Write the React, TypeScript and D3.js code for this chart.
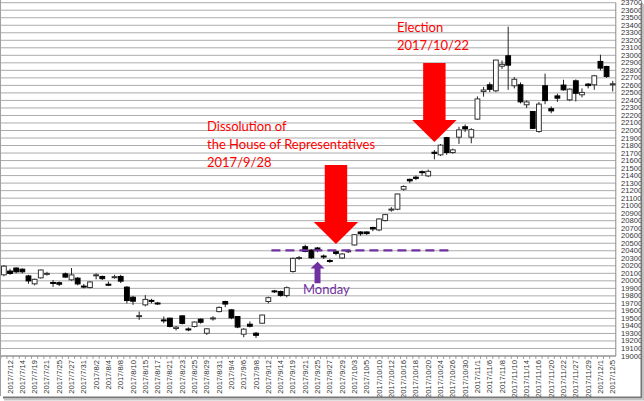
import React from "react";
import * as d3 from "d3";

const dates = [
  "2017/7/11","2017/7/12","2017/7/13","2017/7/14","2017/7/18","2017/7/19","2017/7/20","2017/7/21","2017/7/24","2017/7/25","2017/7/26","2017/7/27","2017/7/28","2017/7/31",
  "2017/8/1","2017/8/2","2017/8/3","2017/8/4","2017/8/7","2017/8/8","2017/8/9","2017/8/10","2017/8/14","2017/8/15","2017/8/16","2017/8/17","2017/8/18","2017/8/21","2017/8/22","2017/8/23","2017/8/24","2017/8/25","2017/8/28","2017/8/29","2017/8/30","2017/8/31",
  "2017/9/1","2017/9/4","2017/9/5","2017/9/6","2017/9/7","2017/9/8","2017/9/11","2017/9/12","2017/9/13","2017/9/14","2017/9/15","2017/9/19","2017/9/20","2017/9/21","2017/9/22","2017/9/25","2017/9/26","2017/9/27","2017/9/28","2017/9/29",
  "2017/10/2","2017/10/3","2017/10/4","2017/10/5","2017/10/6","2017/10/10","2017/10/11","2017/10/12","2017/10/13","2017/10/16","2017/10/17","2017/10/18","2017/10/19","2017/10/20","2017/10/23","2017/10/24","2017/10/25","2017/10/26","2017/10/27","2017/10/30","2017/10/31",
  "2017/11/1","2017/11/2","2017/11/6","2017/11/7","2017/11/8","2017/11/9","2017/11/10","2017/11/13","2017/11/14","2017/11/15","2017/11/16","2017/11/17","2017/11/20","2017/11/21","2017/11/22","2017/11/24","2017/11/27","2017/11/28","2017/11/29","2017/11/30",
  "2017/12/1","2017/12/4","2017/12/5"
];

const opens = [
  20080,20130,20170,20155,20065,19960,20040,20095,19978,19975,20093,20013,20036,19930,
  19911,20075,20058,19955,20052,20058,19916,19782,19535,19680,19740,19705,19480,19503,19366,19534,19360,19392,19490,19303,19500,19591,
  19725,19614,19525,19290,19423,19303,19436,19725,19866,19858,19805,20124,20305,20454,20410,20437,20330,20270,20388,20304,
  20395,20477,20650,20650,20710,20677,20802,20950,20952,21219,21350,21379,21452,21396,21711,21676,21905,21707,21911,22050,21911,
  22151,22519,22608,22528,22855,22994,22595,22608,22342,22253,21987,22595,22290,22460,22604,22408,22661,22475,22617,22608,
  22919,22852,22608
];
const highs = [
  20210,20160,20180,20165,20080,20030,20150,20120,20010,19990,20110,20170,20050,19960,
  19995,20100,20070,19990,20080,20080,19930,19800,19590,19810,19760,19720,19525,19510,19400,19540,19380,19460,19500,19370,19530,19660,
  19735,19620,19530,19370,19460,19320,19550,19790,19880,19870,19925,20310,20330,20480,20420,20450,20350,20290,20400,20370,
  20420,20620,20660,20660,20720,20830,20890,20980,21160,21270,21360,21400,21470,21480,21740,21820,21915,21760,22050,22080,22030,
  22453,22580,22640,22940,22930,23382,22710,22640,22400,22260,22380,22757,22320,22490,22675,22560,22680,22560,22630,22740,
  23008,22860,22660
];
const lows = [
  20060,20080,20100,20100,19960,19940,20030,20070,19920,19930,20040,20000,19940,19900,
  19900,20020,20010,19930,20030,19970,19700,19680,19480,19660,19700,19680,19436,19380,19340,19420,19330,19380,19430,19280,19470,19580,
  19650,19490,19370,19250,19380,19240,19430,19700,19840,19790,19780,20110,20280,20380,20290,20380,20290,20240,20340,20290,
  20370,20470,20600,20610,20660,20660,20790,20920,20940,21200,21300,21340,21400,21380,21616,21660,21676,21690,21822,21980,21830,
  22142,22450,22510,22510,22820,22541,22560,22360,22300,22020,21970,22350,22230,22380,22530,22390,22386,22440,22560,22541,
  22800,22700,22520
];
const closes = [
  20195,20098,20120,20120,19999,20020,20144,20099,19975,19955,20050,20079,19959,19925,
  19985,20080,20029,19952,20055,19996,19738,19729,19537,19753,19729,19702,19470,19393,19383,19434,19353,19452,19449,19362,19506,19646,
  19691,19508,19385,19357,19396,19275,19545,19776,19865,19807,19909,20299,20310,20390,20306,20410,20317,20267,20365,20357,
  20400,20614,20626,20628,20690,20823,20881,20954,21155,21255,21330,21363,21448,21457,21696,21805,21707,21742,22008,22020,22011,
  22420,22539,22548,22937,22880,22869,22681,22381,22380,22028,22351,22397,22261,22430,22541,22550,22495,22506,22597,22728,
  22830,22719,22622
];

const yTicks = d3.range(19000, 23701, 100);

const electionLines = ["Election", "2017/10/22"];
const dissolutionLines = ["Dissolution of", "the House of Representatives", "2017/9/28"];
const mondayLabel = "Monday";
const supportLevel = 20405;
const supportFrom = "2017/9/13";
const supportTo = "2017/10/25";
const dissolutionDate = "2017/9/28";
const electionArrowDate = "2017/10/23";
const mondayDate = "2017/9/25";

const W = 644;
const H = 401;
const plotLeft = 0.8;
const plotRight = 615.8;
const plotTop = 2.7;
const plotBottom = 356;

export default function App() {
  const x = d3.scaleBand<string>().domain(dates).range([plotLeft, plotRight]).padding(0);
  const y = d3.scaleLinear().domain([19000, 23700]).range([plotBottom, plotTop]);
  const bw = x.bandwidth();
  const cx = (d: string) => (x(d) as number) + bw / 2;
  const bodyW = 4.8;

  const labelFont = "'Liberation Sans', Arial, sans-serif";
  const annFont = "Lato, 'Open Sans', sans-serif";

  const redArrow = (c: number, top: number, base: number, tip: number) => {
    const p = d3.path();
    p.moveTo(c - 11.2, top);
    p.lineTo(c + 11.2, top);
    p.lineTo(c + 11.2, base);
    p.lineTo(c + 22.2, base);
    p.lineTo(c, tip);
    p.lineTo(c - 22.2, base);
    p.lineTo(c - 11.2, base);
    p.closePath();
    return p.toString();
  };

  const mx = cx(mondayDate);
  const purpleArrow = (() => {
    const p = d3.path();
    p.moveTo(mx, 261.7);
    p.lineTo(mx + 7, 268.5);
    p.lineTo(mx + 3, 268.5);
    p.lineTo(mx + 3, 283.3);
    p.lineTo(mx - 3, 283.3);
    p.lineTo(mx - 3, 268.5);
    p.lineTo(mx - 7, 268.5);
    p.closePath();
    return p.toString();
  })();

  return (
    <svg
      width={W}
      height={H}
      style={{ position: "fixed", left: 0, top: 0, background: "#fff" }}
    >
      <rect x={0} y={0} width={W} height={H} fill="#fff" />
      {/* gridlines */}
      {yTicks.map((t) => (
        <line key={t} x1={plotLeft} x2={plotRight} y1={y(t)} y2={y(t)} stroke="#acacac" strokeWidth={1} />
      ))}
      {/* plot border */}
      <line x1={plotRight} x2={plotRight} y1={plotTop} y2={plotBottom} stroke="#8a8a8a" strokeWidth={1} />
      <line x1={plotLeft} x2={plotRight} y1={plotBottom} y2={plotBottom} stroke="#8a8a8a" strokeWidth={1} />
      {/* x ticks */}
      {dates.map((d, i) => (
        <line key={"t" + i} x1={x(d) as number} x2={x(d) as number} y1={plotBottom} y2={plotBottom + 3} stroke="#8a8a8a" strokeWidth={0.8} />
      ))}
      {/* y labels */}
      {yTicks.map((t) => (
        <text key={"l" + t} x={621} y={y(t)} dominantBaseline="central" fontSize={7.6} fontFamily={labelFont} fill="#333">
          {t}
        </text>
      ))}
      {/* x labels */}
      {dates.map((d, i) =>
        i % 2 === 1 ? (
          <text
            key={"x" + i}
            transform={`translate(${cx(d)},${plotBottom + 4}) rotate(-90)`}
            textAnchor="end"
            dominantBaseline="central"
            fontSize={7.6}
            fontFamily={labelFont}
            fill="#333"
          >
            {d}
          </text>
        ) : null
      )}
      {/* candles */}
      {dates.map((d, i) => {
        const c = cx(d);
        const o = opens[i];
        const cl = closes[i];
        const up = cl >= o;
        const top = y(Math.max(o, cl));
        const bot = y(Math.min(o, cl));
        const h = Math.max(bot - top, 1);
        return (
          <g key={"c" + i}>
            <line x1={c} x2={c} y1={y(highs[i])} y2={y(lows[i])} stroke="#222" strokeWidth={1} />
            <rect
              x={c - bodyW / 2}
              y={top}
              width={bodyW}
              height={h}
              fill={up ? "#fff" : "#000"}
              stroke={up ? "#333" : "#000"}
              strokeWidth={1}
            />
          </g>
        );
      })}
      {/* support line */}
      <line
        x1={x(supportFrom) as number}
        x2={(x(supportTo) as number) + bw}
        y1={y(supportLevel)}
        y2={y(supportLevel)}
        stroke="#7030a0"
        strokeWidth={2.4}
        strokeDasharray="9,5"
      />
      {/* red arrows */}
      <path d={redArrow(cx(dissolutionDate), 165, 222, 244)} fill="#ff0000" />
      <path d={redArrow(cx(electionArrowDate), 63, 120, 142)} fill="#ff0000" />
      {/* purple arrow */}
      <path d={purpleArrow} fill="#7030a0" />
      <text x={303} y={294} fontSize={13} fontFamily={annFont} fill="#7030a0">
        {mondayLabel}
      </text>
      {/* annotation texts */}
      {electionLines.map((s, i) => (
        <text key={"e" + i} x={397} y={32 + i * 18} fontSize={13} fontFamily={annFont} fill="#ff0000">
          {s}
        </text>
      ))}
      {dissolutionLines.map((s, i) => (
        <text key={"d" + i} x={207} y={131 + i * 18} fontSize={13} fontFamily={annFont} fill="#ff0000">
          {s}
        </text>
      ))}
      {/* frame & shadow */}
      <line x1={0.5} x2={0.5} y1={0} y2={396} stroke="#a0a0a0" strokeWidth={1} />
      <rect x={640.5} y={3} width={2} height={395} fill="#777" />
      <rect x={642.5} y={4} width={1.5} height={395} fill="#c4c4c4" />
      <rect x={3} y={396.5} width={639} height={2} fill="#777" />
      <rect x={4} y={398.5} width={640} height={2} fill="#c4c4c4" />
    </svg>
  );
}
